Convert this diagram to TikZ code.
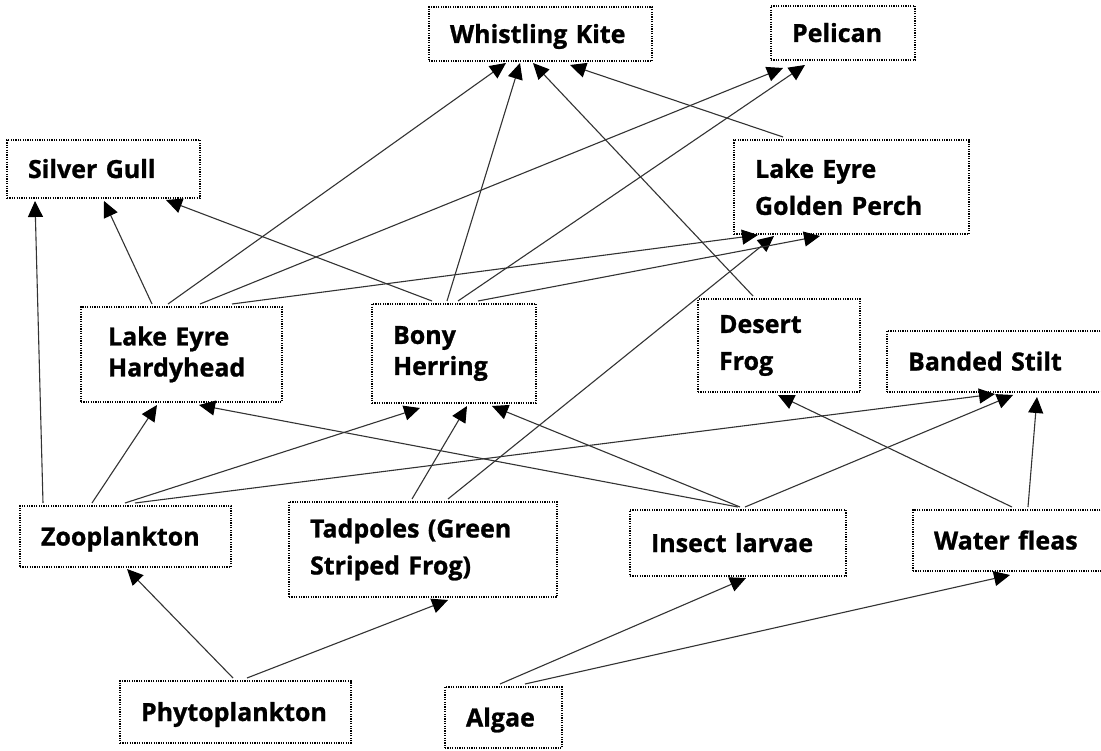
\documentclass[tikz,border=0pt]{standalone}
\usepackage{fontspec}
\setmainfont{Open Sans}[BoldFeatures={FakeBold=1}]
\usetikzlibrary{arrows.meta}
\begin{document}
\begin{tikzpicture}[x=1pt,y=-1pt,
  box/.style={draw=black, line width=1.3pt, dash pattern=on 1.2pt off 1.2pt,
    anchor=north west, inner xsep=21pt, inner ysep=0pt, outer sep=0pt,
    align=left, font=\fontsize{25}{37}\selectfont\bfseries},
  one/.style={text height=18pt, text depth=0pt},
  tight/.style={font=\fontsize{25}{31}\selectfont\bfseries},
  link/.style={draw=black!80, line width=1.1pt,
    -{Triangle[length=16pt,width=15pt,color=black,fill=black]}}]
\clip (0,0) rectangle (1101,751);
\fill[white] (0,0) rectangle (1101,751);
% nodes
\node[box, one, minimum width=223pt, minimum height=54pt, text width=181pt] (wk) at (429,7) {Whistling Kite};
\node[box, one, minimum width=144pt, minimum height=54pt, text width=102pt] (pel) at (771,6) {Pelican};
\node[box, minimum width=235pt, minimum height=94pt, text width=193pt] (gp) at (734,140) {Lake Eyre\\Golden Perch};
\node[box, one, minimum width=193pt, minimum height=58pt, text width=151pt] (sg) at (7,140) {Silver Gull};
\node[box, tight, minimum width=201pt, minimum height=95pt, text width=159pt] (hh) at (81,307) {\hspace*{6pt}Lake Eyre\\\hspace*{6pt}Hardyhead};
\node[box, tight, minimum width=164pt, minimum height=99pt, text width=122pt] (bh) at (372,304) {Bony\\Herring};
\node[box, minimum width=162pt, minimum height=93pt, text width=120pt] (df) at (698,299) {Desert\\Frog};
\node[box, one, minimum width=225pt, minimum height=61pt, text width=183pt] (bs) at (887,331) {Banded Stilt};
\node[box, one, minimum width=200pt, minimum height=61pt, text width=158pt] (wf) at (913,510) {Water fleas};
\node[box, one, minimum width=216pt, minimum height=66pt, text width=174pt] (il) at (630,510) {Insect larvae};
\node[box, one, minimum width=211pt, minimum height=61pt, text width=169pt] (zp) at (20,506) {Zooplankton};
\node[box, minimum width=268pt, minimum height=95pt, text width=226pt] (tp) at (289,502) {Tadpoles (Green\\Striped Frog)};
\node[box, one, minimum width=231pt, minimum height=62pt, text width=189pt] (pp) at (120,681) {Phytoplankton};
\node[box, one, minimum width=117pt, minimum height=61pt, text width=75pt] (al) at (445,687) {Algae};
% connectors
\draw[link] ([xshift=23pt,yshift=3pt]zp.north west) -- ([xshift=28pt,yshift=-3pt]sg.south west);
\draw[link] ([xshift=71pt,yshift=3pt]hh.north west) -- ([xshift=97pt,yshift=-3pt]sg.south west);
\draw[link] ([xshift=60pt,yshift=3pt]bh.north west) -- ([xshift=159pt,yshift=-2pt]sg.south west);
\draw[link] ([xshift=87pt,yshift=3pt]hh.north west) -- ([xshift=77pt,yshift=-2pt]wk.south west);
\draw[link] ([xshift=75pt,yshift=3pt]bh.north west) -- ([xshift=91pt,yshift=-2pt]wk.south west);
\draw[link] ([xshift=55pt,yshift=3pt]df.north west) -- ([xshift=104pt,yshift=-2pt]wk.south west);
\draw[link] ([xshift=49pt,yshift=3pt]gp.north west) -- ([xshift=141pt,yshift=-4pt]wk.south west);
\draw[link] ([xshift=119pt,yshift=3pt]hh.north west) -- ([xshift=12pt,yshift=-8pt]pel.south west);
\draw[link] ([xshift=86pt,yshift=3pt]bh.north west) -- ([xshift=34pt,yshift=-5pt]pel.south west);
\draw[link] ([xshift=151pt,yshift=3pt]hh.north west) -- ([xshift=24pt,yshift=-1pt]gp.south west);
\draw[link] ([xshift=159pt,yshift=3pt]tp.north west) -- ([xshift=40pt,yshift=-2pt]gp.south west);
\draw[link] ([xshift=106pt,yshift=3pt]bh.north west) -- ([xshift=86pt,yshift=-2pt]gp.south west);
\draw[link] ([xshift=72pt,yshift=3pt]zp.north west) -- ([xshift=76pt,yshift=-3pt]hh.south west);
\draw[link] ([xshift=108pt,yshift=3pt]il.north west) -- ([xshift=118pt,yshift=-3pt]hh.south west);
\draw[link] ([xshift=105pt,yshift=3pt]zp.north west) -- ([xshift=48pt,yshift=-5pt]bh.south west);
\draw[link] ([xshift=123pt,yshift=3pt]tp.north west) -- ([xshift=95pt,yshift=-3pt]bh.south west);
\draw[link] ([xshift=110pt,yshift=3pt]il.north west) -- ([xshift=120pt,yshift=-3pt]bh.south west);
\draw[link] ([xshift=115pt,yshift=3pt]zp.north west) -- ([xshift=108pt,yshift=-2pt]bs.south west);
\draw[link] ([xshift=115pt,yshift=3pt]il.north west) -- ([xshift=126pt,yshift=-3pt]bs.south west);
\draw[link] ([xshift=115pt,yshift=3pt]wf.north west) -- ([xshift=150pt,yshift=-5pt]bs.south west);
\draw[link] ([xshift=99pt,yshift=3pt]wf.north west) -- ([xshift=80pt,yshift=-3pt]df.south west);
\draw[link] ([xshift=113pt,yshift=3pt]pp.north west) -- ([xshift=107pt,yshift=-2pt]zp.south west);
\draw[link] ([xshift=127pt,yshift=3pt]pp.north west) -- ([xshift=159pt,yshift=-3pt]tp.south west);
\draw[link] ([xshift=55pt,yshift=3pt]al.north west) -- ([xshift=116pt,yshift=-2pt]il.south west);
\draw[link] ([xshift=80pt,yshift=3pt]al.north west) -- ([xshift=97pt,yshift=-4pt]wf.south west);
\end{tikzpicture}
\end{document}
